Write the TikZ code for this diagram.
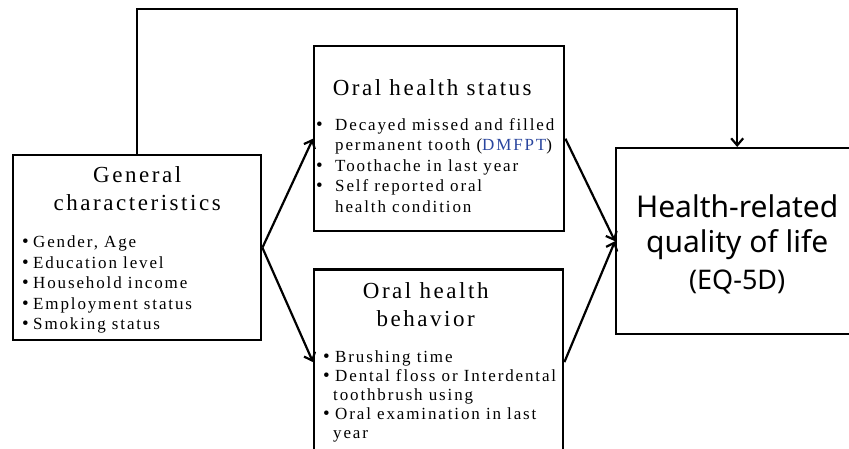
\documentclass[tikz,border=0pt]{standalone}
\usepackage{fontspec}
\setmainfont{Liberation Serif}[LetterSpace=11]
\newfontfamily\gothic{Noto Sans}
\usepackage{xcolor}
\usetikzlibrary{arrows.meta,positioning}
\definecolor{dmfblue}{rgb}{0.16,0.27,0.62}
\newcommand{\bul}[1][11pt]{\makebox[#1][l]{\fontsize{19}{19}\selectfont\textbullet}}

\begin{document}
\begin{tikzpicture}[
  x=1pt, y=-1pt,
  box/.style={draw, line width=2.4pt, minimum height=185pt, inner sep=0pt, anchor=north west},
  ttl/.style={font=\fontsize{23}{28}\selectfont, align=center, inner sep=0pt},
  lst/.style={font=\fontsize{17}{20.5}\selectfont, align=left, inner sep=0pt},
  arr/.style={-{Straight Barb[length=7pt,width=12pt]}, line width=2.2pt}
]
\useasboundingbox (0,0) rectangle (849,449);
\node[box, minimum width=248pt] (gen) at (12,154) {};
\node[box, minimum width=250pt] (ohs) at (313,45) {};
\node[box, minimum width=249pt, below=36pt of ohs.south west, anchor=north west] (ohb) {};
\node[box, minimum width=242pt, minimum height=186pt] (hrql) at (615,147) {};
% titles and item lists
\node[ttl, below=12pt of gen.north] (genT) {General\\characteristics};
\node[lst, below right=82pt and 10pt of gen.north west] (genL) {\bul Gender, Age\\\bul Education level\\\bul Household income\\\bul Employment status\\\bul Smoking status};
\node[ttl, below=34pt of ohs.north, xshift=-7pt] (ohsT) {Oral health status};
\node[lst, below right=73pt and 3pt of ohs.north west] (ohsL) {\bul[19pt]Decayed missed and filled\\\hspace*{19pt}permanent tooth ({\color{dmfblue}DMFPT})\\\bul[19pt]Toothache in last year\\\bul[19pt]Self reported oral\\\hspace*{19pt}health condition};
\node[ttl, below=14pt of ohb.north, xshift=-13pt] (ohbT) {Oral health\\behavior};
\node[lst, font=\fontsize{17}{19}\selectfont, below right=82pt and 10pt of ohb.north west] (ohbL) {\bul[12pt]Brushing time\\\bul[12pt]Dental floss or Interdental\\\hspace*{10pt}toothbrush using\\\bul[12pt]Oral examination in last\\\hspace*{10pt}year};
\node[font=\gothic\fontsize{30}{36}\selectfont, align=center, inner sep=0pt, below=47pt of hrql.north] (hrqlT) {Health-related\\quality of life\\{\fontsize{27}{36}\selectfont (EQ-5D)}};
% connectors
\coordinate (top) at (0,9);
\draw[arr] (gen.east) -- (ohs.west);
\draw[arr] (gen.east) -- (ohb.west);
\draw[arr] (ohs.east) -- (hrql.west);
\draw[arr] (ohb.east) -- (hrql.west);
\draw[arr] (gen.north) -- (gen.north |- top) -| (hrql.north);
\end{tikzpicture}
\end{document}
